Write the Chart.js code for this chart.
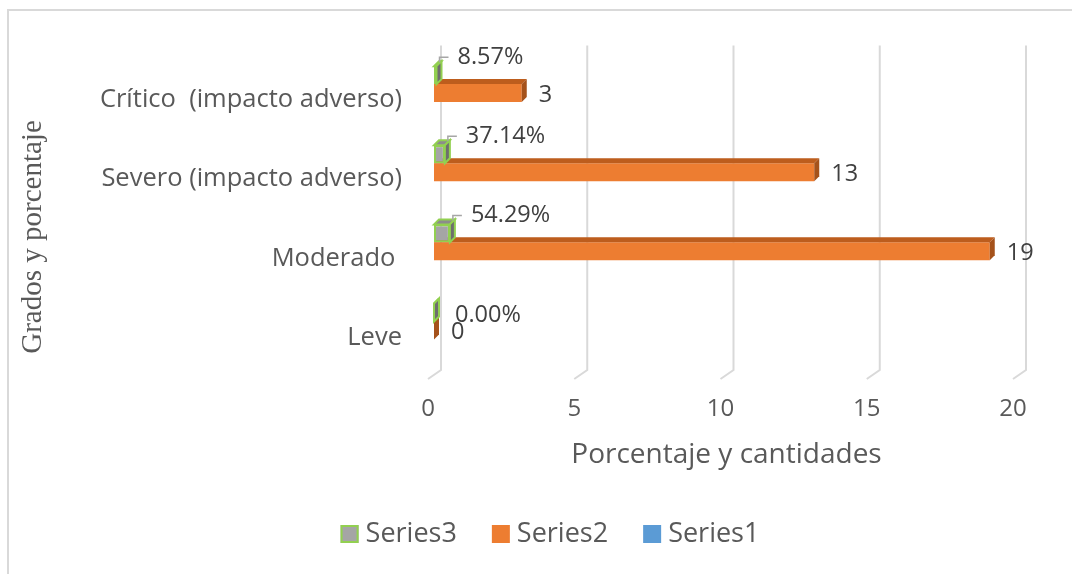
<!DOCTYPE html>
<html>
<head>
<meta charset="utf-8">
<script src="https://cdn.jsdelivr.net/npm/chart.js@4.4.1/dist/chart.umd.min.js"></script>
<style>
html, body { margin: 0; padding: 0; background: #fff; }
</style>
</head>
<body>
<canvas id="c" width="1072" height="574"></canvas>
<script>
const categories = ["Crítico  (impacto adverso)", "Severo (impacto adverso)", "Moderado ", "Leve"];
const series3 = [0.0857, 0.3714, 0.5429, 0];
const series2 = [3, 13, 19, 0];
const series1 = [null, null, null, null];
const xTicks = [0, 5, 10, 15, 20];

const DX = 5;
const DY = 5;
const TEXT = "#595959";

const faces = [
	{ top: "#8c8c8c", side: "#6e6e6e", edge: "#92D050" },
	{ top: "#bd5d1d", side: "#a5521b", edge: null },
	{ top: "#4a86c0", side: "#3a70a8", edge: null },
];

function poly(ctx, pts, fill, edge) {
	ctx.beginPath();
	ctx.moveTo(pts[0][0], pts[0][1]);
	for (let i = 1; i < pts.length; i++) ctx.lineTo(pts[i][0], pts[i][1]);
	ctx.closePath();
	ctx.fillStyle = fill;
	ctx.fill();
	if (edge) {
		ctx.strokeStyle = edge;
		ctx.lineWidth = 2;
		ctx.stroke();
	}
}

// back wall gridlines with the floor step
const wallPlugin = {
	id: "wall",
	beforeDatasetsDraw(chart) {
		const { ctx, chartArea, scales } = chart;
		ctx.save();
		ctx.strokeStyle = "#d9d9d9";
		ctx.lineWidth = 2;
		for (const t of xTicks) {
			const px = scales.x.getPixelForValue(t);
			ctx.beginPath();
			ctx.moveTo(px + 7, chartArea.top - 8);
			ctx.lineTo(px + 7, chartArea.bottom);
			ctx.lineTo(px - 6, chartArea.bottom + 9);
			ctx.stroke();
		}
		ctx.restore();
	},
};

// top and side faces of every bar
const depthPlugin = {
	id: "depth",
	afterDatasetDraw(chart, args) {
		const ctx = chart.ctx;
		const c = faces[args.index];
		const data = chart.data.datasets[args.index].data;
		ctx.save();
		args.meta.data.forEach((bar, i) => {
			if (data[i] === null) return;
			const left = Math.min(bar.base, bar.x);
			const right = Math.max(bar.base, bar.x);
			const top = bar.y - bar.height / 2;
			const bottom = bar.y + bar.height / 2;
			poly(ctx, [[left, top], [right, top], [right + DX, top - DY], [left + DX, top - DY]], c.top, c.edge);
			poly(ctx, [[right, top], [right + DX, top - DY], [right + DX, bottom - DY], [right, bottom]], c.side, c.edge);
		});
		ctx.restore();
	},
};

const decorPlugin = {
	id: "decor",
	beforeDraw(chart) {
		const ctx = chart.ctx;
		ctx.save();
		ctx.strokeStyle = "#d9d9d9";
		ctx.lineWidth = 2;
		ctx.strokeRect(8, 10, 1200, 700);
		ctx.restore();
	},
	afterDraw(chart) {
		const ctx = chart.ctx;
		ctx.save();

		// value labels
		ctx.font = "23.5px 'Open Sans'";
		ctx.fillStyle = "#404040";
		ctx.textBaseline = "middle";
		ctx.textAlign = "left";
		chart.getDatasetMeta(1).data.forEach((bar, i) => {
			ctx.fillText(String(series2[i]), bar.x + DX + 12, bar.y + 2);
		});
		chart.getDatasetMeta(0).data.forEach((bar, i) => {
			const v = series3[i];
			const text = (v * 100).toFixed(2) + "%";
			const lx = bar.x + DX + 16;
			if (v > 0) {
				const ly = bar.y - 18;
				ctx.strokeStyle = "#a6a6a6";
				ctx.lineWidth = 1.5;
				ctx.beginPath();
				ctx.moveTo(bar.x + 3, bar.y - bar.height / 2 - DY + 1);
				ctx.lineTo(bar.x + 3, ly);
				ctx.lineTo(lx - 9, ly);
				ctx.stroke();
				ctx.fillText(text, lx, ly);
			} else {
				ctx.fillText(text, lx, bar.y + 3);
			}
		});

		// vertical axis title
		ctx.save();
		ctx.translate(33, 237);
		ctx.rotate(-Math.PI / 2);
		ctx.font = "29px 'Liberation Serif'";
		ctx.fillStyle = TEXT;
		ctx.textAlign = "center";
		ctx.textBaseline = "middle";
		ctx.fillText("Grados y porcentaje", 0, 0);
		ctx.restore();

		// legend
		ctx.font = "27px 'Open Sans'";
		ctx.textAlign = "left";
		ctx.textBaseline = "middle";
		const box = 18, gap = 7, spacing = 35;
		const items = chart.data.datasets.map((ds, i) => ({
			label: ds.label,
			fill: ds.backgroundColor,
			edge: faces[i].edge,
			w: ctx.measureText(ds.label).width,
		}));
		const total = items.reduce((s, it) => s + box + gap + it.w, 0) + spacing * (items.length - 1);
		let x = 550 - total / 2;
		const y = 534;
		for (const it of items) {
			ctx.fillStyle = it.fill;
			ctx.fillRect(x, y - box / 2, box, box);
			if (it.edge) {
				ctx.strokeStyle = it.edge;
				ctx.lineWidth = 2;
				ctx.strokeRect(x + 1, y - box / 2 + 1, box - 2, box - 2);
			}
			ctx.fillStyle = TEXT;
			ctx.fillText(it.label, x + box + gap, y);
			x += box + gap + it.w + spacing;
		}
		ctx.restore();
	},
};

new Chart(document.getElementById("c").getContext("2d"), {
	type: "bar",
	data: {
		labels: categories,
		datasets: [
			{
				label: "Series3",
				data: series3,
				backgroundColor: "#a5a5a5",
				borderColor: "#92D050",
				borderWidth: 2,
				borderSkipped: false,
			},
			{
				label: "Series2",
				data: series2,
				backgroundColor: "#ed7d31",
			},
			{
				label: "Series1",
				data: series1,
				backgroundColor: "#5b9bd5",
			},
		],
	},
	options: {
		responsive: false,
		animation: false,
		indexAxis: "y",
		devicePixelRatio: 1,
		layout: { padding: { top: 53.5, right: 53, bottom: 99, left: 0 } },
		datasets: { bar: { categoryPercentage: 0.68, barPercentage: 1 } },
		plugins: {
			legend: { display: false },
			tooltip: { enabled: false },
		},
		scales: {
			x: {
				min: xTicks[0],
				max: xTicks[xTicks.length - 1],
				grid: { display: false, drawTicks: false },
				border: { display: false },
				ticks: {
					stepSize: xTicks[1] - xTicks[0],
					labelOffset: -6,
					padding: 25,
					color: TEXT,
					font: { family: "Open Sans", size: 24 },
				},
				title: {
					display: true,
					text: "Porcentaje y cantidades",
					color: TEXT,
					font: { family: "Open Sans", size: 28 },
					padding: { top: 0, bottom: 3 },
				},
				afterFit(scale) {
					scale.height = 105;
				},
			},
			y: {
				grid: { display: false, drawTicks: false },
				border: { display: false },
				ticks: {
					padding: 32,
					labelOffset: 7,
					color: TEXT,
					font: { family: "Open Sans", size: 25.5 },
				},
				afterFit(scale) {
					scale.width = 434;
				},
			},
		},
	},
	plugins: [wallPlugin, depthPlugin, decorPlugin],
});
</script>
</body>
</html>
